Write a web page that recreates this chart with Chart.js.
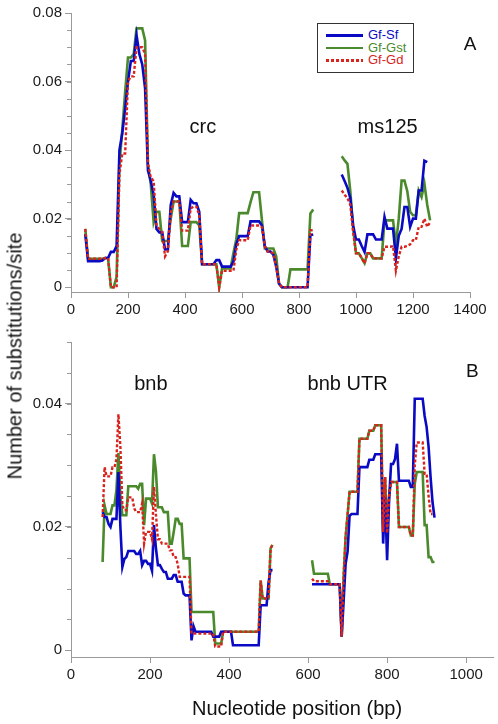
<!DOCTYPE html>
<html>
<head>
<meta charset="utf-8">
<script src="https://cdn.jsdelivr.net/npm/chart.js@4.4.1/dist/chart.umd.min.js"></script>
<style>
body{margin:0;background:#fff;}
#wrap{position:relative;width:498px;height:724px;font-family:"Liberation Sans",Arial,sans-serif;color:#111;}
#boxA{position:absolute;left:0;top:0;}
#boxB{position:absolute;left:0;top:330px;}
.ytitle{position:absolute;left:15px;top:356px;transform:translate(-50%,-50%) rotate(-90deg);font-size:20px;white-space:nowrap;}
.xtitle{position:absolute;left:297px;top:708px;transform:translate(-50%,-50%);font-size:20px;white-space:nowrap;}
#legend{position:absolute;left:317px;top:23px;width:97px;height:50px;border:1px solid #333;box-sizing:border-box;padding-top:5px;background:#fff;}
#legend .row{height:12.6px;line-height:12.6px;font-size:13px;white-space:nowrap;position:relative;}
#legend .smp{position:absolute;left:8px;top:5px;width:37px;height:2.6px;}
#legend .txt{position:absolute;left:50px;top:0;}
</style>
</head>
<body>
<div id="wrap">
<canvas id="boxA" width="498" height="330"></canvas>
<canvas id="boxB" width="498" height="394"></canvas>
<div class="ytitle">Number of substitutions/site</div>
<div class="xtitle">Nucleotide position (bp)</div>
<div id="legend"></div>
</div>
<script>
function steps(from, to, by){ let a=[]; for(let v=from; v<=to; v+=by) a.push(v); return a }

// ----------------------------
// PANEL A  (crc + ms125)
// ----------------------------

let posA = [...steps(50,850,10), 900, ...steps(950,1260,10)]

let sfA = [
.0155,.0076,.0076,.0076,.0076,.0076,.0078,.0085,.0085,.0103,
.0103,.012,.040,.045,.052,.060,.066,.066,.0735,.068,
.065,.058,.034,.031,.027,.017,.016,.016,.011,.011,
.024,.0275,.0265,.0265,.019,.019,.019,.0255,.0245,.0245,
.022,.0067,.0067,.0067,.0067,.0067,.0079,.0079,.006,.006,
.006,.006,.0075,.0125,.0149,.0149,.0149,.0149,.0192,.0192,
.0192,.0192,.018,.012,.0104,.0104,.0095,.006,.001,0,
0,0,0,0,0,0,0,0,0,.0152,
.0154,null,.0329,.031,.029,.026,.018,.0139,.0139,.012,
.0103,.0154,.0154,.0154,.0139,.0139,.0139,.0205,.0171,.0171,
.0171,.0084,.015,.017,.0234,.0234,.0176,.020,.020,.0282,
.0282,.0369,.0365,null]

let gstA = [
.017,.0083,.0083,.0083,.0083,.0083,.0083,.0085,.0085,0,
0,.003,.036,.046,.057,.067,.067,.068,.0755,.0755,
.0755,.072,.036,.030,.019,.022,.022,.0135,.0135,.0135,
.020,.025,.025,.025,.012,.012,.012,.019,.019,.019,
.018,.0067,.0067,.0067,.0067,.0067,.0067,0,.0055,.0055,
.0055,.0055,.010,.014,.0216,.0216,.0216,.0216,.0248,.0277,
.0277,.0277,.0195,.0113,.0113,.0113,.0113,.009,.001,0,
0,0,.0052,.0052,.0052,.0052,.0052,.0052,.0052,.0215,
.0227,null,.0382,.037,.036,.028,.017,.0099,.0099,.0085,
.007,.0099,.0099,.0084,.0084,.0084,.0084,.0195,.0195,.0195,
.0195,.0123,.020,.0311,.0311,.028,.022,.021,.021,.0282,
.0263,.0302,.024,.0195]

let gdA = [
.017,.0083,.0083,.0083,.0083,.0083,.0083,.0085,.0085,0,
0,0,.033,.039,.039,.060,.0615,.0615,.070,.070,
.070,.068,.036,.032,.031,.018,.017,.016,.009,.0105,
.022,.025,.025,.025,.0165,.0165,.0165,.023,.0235,.0235,
.021,.0067,.0067,.0067,.0067,.0067,.0067,0,.0048,.0048,
.0048,.0048,.0048,.011,.0137,.0137,.0137,.0137,.018,.018,
.018,.018,.0175,.012,.0104,.0104,.0098,.006,.001,0,
0,0,0,0,0,0,0,0,0,.0166,
.0166,null,.0282,.027,.026,.024,.016,.0099,.0099,.0085,
.007,.0099,.0099,.0084,.0084,.0084,.0084,.0118,.0118,.0118,
.012,.0048,.009,.0118,.0118,.012,.0125,.0137,.0137,.0176,
.0176,.020,.0176,.019]

let xTicksA = [0,200,400,600,800,1000,1200,1400]
let yTicksA = [0,0.02,0.04,0.06,0.08]
let yLabelsA = ["0","0.02","0.04","0.06","0.08"]

// ----------------------------
// PANEL B  (bnb + bnb UTR)
// ----------------------------

let posB = [...steps(80,510,5), 560, ...steps(610,920,5)]

let sfB = [
.0224,.0216,.0216,.0205,.020,.0213,.0213,.0213,.0289,.020,
.0135,.0148,.0151,.0161,.0161,.0161,.0161,.0156,.0156,.0161,
.0138,.0145,.0145,.014,.014,.0129,.0203,.0165,.0138,.0138,
.0132,.0127,.0127,.0116,.0116,.0116,.0122,.0122,.0111,.0111,
.0111,.0092,.0089,.0089,.0089,.0016,.0039,.003,.003,.003,
.003,.003,.003,.003,.003,.003,.0022,.0022,.0022,.0022,
.003,.003,.003,.003,.003,.003,.0008,.0008,.0008,.0008,
.0008,.0008,.0008,.0008,.0008,.0008,.0008,.0008,.0008,.0008,
.0073,.0073,.0073,.0073,.011,.013,.013,
null,
.0107,.0107,.0107,.0107,.0107,.0107,.0107,.0107,.0107,.0107,
.0107,.0107,.0107,.0107,.0107,.0022,.008,.014,.016,.0218,
.0221,.0221,.0221,.0221,.0297,.0297,.0297,.0297,.0297,.0309,
.0309,.0309,.0318,.0318,.0318,.0318,.0173,.025,.0146,.0243,
.0302,.0302,.031,.0335,.0275,.0275,.0275,.0275,.0275,.0275,
.0265,.0265,.0408,.0408,.0408,.0408,.0408,.038,.0362,.033,
.0281,.024,.0215]

let gstB = [
.0143,.0235,.0221,.0221,.0221,.0235,.0235,.026,.032,.025,
.0219,.0219,.0219,.0266,.0266,.0266,.0266,.0266,.0262,.027,
.027,.0203,.0246,.0246,.0246,.0238,.0318,.029,.0232,.0232,
.0232,.0224,.0224,.0224,.0173,.0173,.0192,.0213,.0213,.0205,
.0205,.0149,.0149,.0149,.0149,.0062,.0062,.0062,.0062,.0062,
.0062,.0062,.0062,.0062,.0062,.0062,.0062,.0011,.0011,.0011,
.0011,.003,.003,.003,.003,.003,.003,.003,.003,.003,
.003,.003,.003,.003,.003,.003,.003,.003,.003,.003,
.0113,.0084,.0084,.0084,.0084,.0165,.0171,
null,
.0146,.0124,.0124,.0124,.0124,.0124,.0124,.0124,.0124,.0107,
.0107,.0107,.0107,.0107,.0107,.0022,.012,.0184,.022,.0257,
.0257,.0257,.0257,.0257,.0343,.0343,.0343,.0343,.0343,.0356,
.0356,.0356,.0365,.0365,.0365,.0365,.0192,.0281,.019,.025,
.0273,.0273,.0273,.0273,.020,.020,.020,.020,.020,.020,
.0186,.0186,.027,.0289,.0289,.0289,.0289,.0203,.0203,.0151,
.0151,.0143,.0143]

let gdB = [
.0216,.0297,.0282,.0282,.0282,.0297,.0297,.031,.0383,.033,
.0235,.0227,.0227,.0248,.0248,.0248,.023,.0224,.0224,.0224,
.0238,.0173,.0192,.0192,.0192,.018,.0265,.022,.018,.018,
.0173,.0173,.0173,.0173,.0162,.0162,.0151,.0151,.014,.0119,
.0119,.0119,.0119,.0119,.0119,.0027,.0027,.0027,.0027,.0027,
.0027,.0027,.0027,.0027,.0027,.0027,.0027,.0006,.0006,.0006,
.0006,.003,.003,.003,.003,.003,.003,.003,.003,.003,
.003,.003,.003,.003,.003,.003,.003,.003,.003,.003,
.0113,.0084,.0084,.0084,.0084,.0165,.0171,
null,
.0116,.0112,.0112,.0112,.0112,.0112,.0112,.0112,.0112,.0107,
.0107,.0107,.0107,.0107,.0107,.0022,.012,.0184,.022,.0257,
.0257,.0257,.0257,.0257,.0343,.0343,.0343,.0343,.0343,.0356,
.0356,.0356,.0365,.0365,.0365,.0365,.0192,.0281,.019,.025,
.0273,.0273,.0273,.0273,.020,.020,.020,.020,.020,.020,
.0186,.0186,.030,.0337,.0337,.0337,.0337,.0286,.0286,.025,
.0221,.0221,null]

let xTicksB = [0,200,400,600,800,1000]
let yTicksB = [0,0.02,0.04]
let yLabelsB = ["0","0.02","0.04"]

let seriesNames = ["Gf-Sf","Gf-Gst","Gf-Gd"]
let seriesColors = ["#0a0ac4","#4b8a2c","#d9241e"]

// text placed in data units
let notesA = [{text:"crc",x:463,y:0.0465},{text:"ms125",x:1111,y:0.0465},{text:"A",x:1400,y:0.0707,big:true}]
let notesB = [{text:"bnb",x:202,y:0.0431},{text:"bnb UTR",x:700,y:0.0431},{text:"B",x:1016,y:0.0452,big:true}]

const FONT = '"Liberation Sans", Arial, sans-serif'
const AXIS = "#9a9a9a"

function pts(pos, vals){ return pos.map((p,i)=>({x:p, y:vals[i]})) }

function makeDatasets(pos, sf, gst, gd){
return [
{label:seriesNames[0], data:pts(pos,sf), borderColor:seriesColors[0], borderWidth:2.6, order:2},
{label:seriesNames[1], data:pts(pos,gst), borderColor:seriesColors[1], borderWidth:2.6, order:3},
{label:seriesNames[2], data:pts(pos,gd), borderColor:seriesColors[2], borderWidth:2.4, borderDash:[3,2], order:1}
]
}

// minor ticks + text notes
const extras = {
id:"extras",
afterDatasetsDraw(chart, args, opts){
const {ctx, scales:{x,y}} = chart
ctx.save()
ctx.strokeStyle = AXIS
ctx.lineWidth = 1
for(let v=0; v<=y.max+1e-9; v+=0.005){
let py = Math.round(y.getPixelForValue(v))+0.5
ctx.beginPath(); ctx.moveTo(x.left-4, py); ctx.lineTo(x.left, py); ctx.stroke()
}
ctx.fillStyle = "#111"
ctx.textAlign = "center"
ctx.textBaseline = "middle"
opts.notes.forEach(n=>{
ctx.font = (n.big ? "19px " : "20px ") + FONT
ctx.fillText(n.text, x.getPixelForValue(n.x), y.getPixelForValue(n.y))
})
ctx.restore()
}
}

function makeChart(id, o){
return new Chart(document.getElementById(id),{
type:"line",
data:{datasets:makeDatasets(o.pos, o.sf, o.gst, o.gd)},
options:{
responsive:false,
animation:false,
events:[],
elements:{point:{radius:0}, line:{tension:0, fill:false}},
spanGaps:false,
layout:{padding:{left:0, top:o.top, right:o.right, bottom:0}},
plugins:{legend:{display:false}, tooltip:{enabled:false}, extras:{notes:o.notes}},
scales:{
x:{
type:"linear", min:0, max:o.xMax,
afterBuildTicks:s=>{ s.ticks = o.xTicks.map(v=>({value:v})) },
afterFit:s=>{ s.height = o.xH },
grid:{drawOnChartArea:false, tickLength:6, color:AXIS},
border:{color:AXIS},
ticks:{autoSkip:false, maxRotation:0, padding:3, color:"#1a1a1a", font:{size:15, family:FONT},
callback:v=>String(v)}
},
y:{
type:"linear", min:o.yMin, max:o.yMax,
afterBuildTicks:s=>{ s.ticks = o.yTicks.map(v=>({value:v})) },
afterFit:s=>{ s.width = 71 },
grid:{drawOnChartArea:false, tickLength:6, color:AXIS},
border:{color:AXIS},
ticks:{padding:3, color:"#1a1a1a", font:{size:15, family:FONT},
callback:v=>{ let i = o.yTicks.indexOf(v); return i>=0 ? o.yLabels[i] : "" }}
}
}
},
plugins:[extras]
})
}

let chartA = makeChart("boxA",{pos:posA, sf:sfA, gst:gstA, gd:gdA, xMax:1400, xTicks:xTicksA,
yMin:-0.0014, yMax:0.08, yTicks:yTicksA, yLabels:yLabelsA, top:13, right:28, xH:38, notes:notesA})

let chartB = makeChart("boxB",{pos:posB, sf:sfB, gst:gstB, gd:gdB, xMax:1068, xTicks:xTicksB,
yMin:-0.0011, yMax:0.05, yTicks:yTicksB, yLabels:yLabelsB, top:12, right:5, xH:67, notes:notesB})

// ----------------------------
// LEGEND BOX
// ----------------------------

let legend = document.getElementById("legend")
chartA.data.datasets.forEach(ds=>{
let row = document.createElement("div")
row.className = "row"
let smp = document.createElement("span")
smp.className = "smp"
smp.style.background = ds.borderDash
? "repeating-linear-gradient(90deg," + ds.borderColor + " 0 3px, transparent 3px 5px)"
: ds.borderColor
let txt = document.createElement("span")
txt.className = "txt"
txt.style.color = ds.borderColor
txt.innerText = ds.label
row.appendChild(smp); row.appendChild(txt)
legend.appendChild(row)
})
</script>
</body>
</html>
